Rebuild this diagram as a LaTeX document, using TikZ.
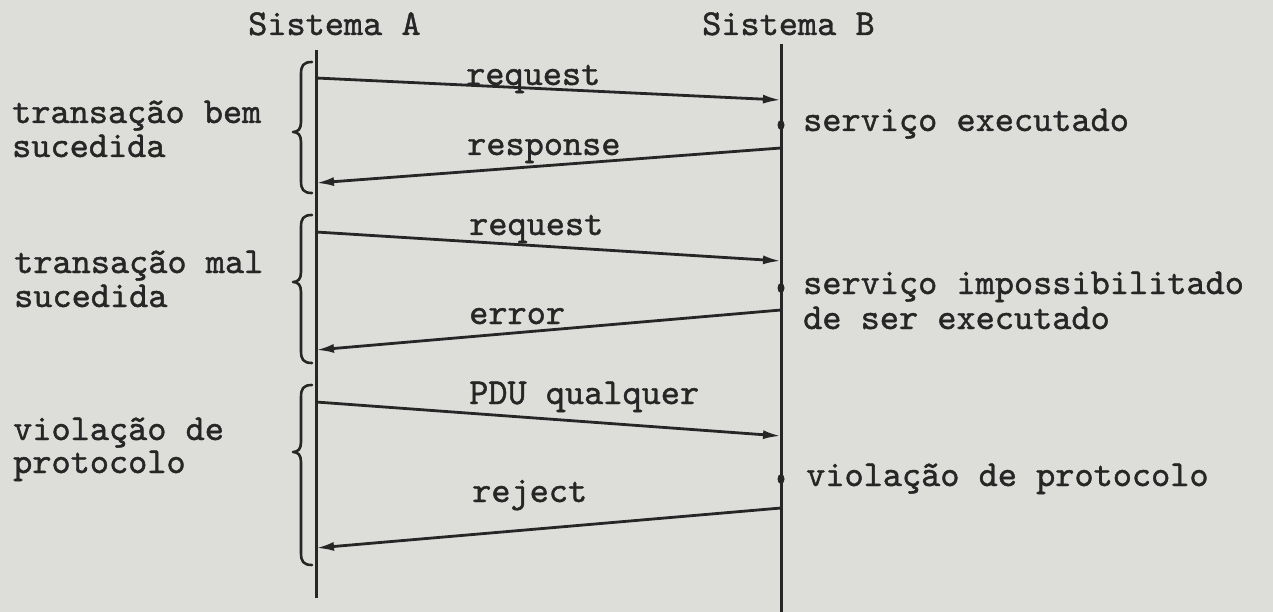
\documentclass[tikz,border=0pt]{standalone}
\usepackage{fontspec}
\setmonofont[FakeBold=1.2]{lmmono10-regular.otf}
\usetikzlibrary{arrows.meta,shapes.geometric}
\definecolor{paper}{RGB}{221,221,218}
\definecolor{ink}{RGB}{38,38,38}
\newcommand\sidebrace[4]{%
  \draw[bracestyle] (312,#2) .. controls (303,#2) and (301,#2+4) .. (301,#2+12)
    -- (301,#3-10) .. controls (301,#3-3) and (298,#3) .. (293,#3)
    .. controls (298,#3) and (301,#3+3) .. (301,#3+10)
    -- (301,#4-12) .. controls (301,#4-4) and (303,#4) .. (312,#4);
  \coordinate (#1) at (293,#3);}
\begin{document}
\begin{tikzpicture}[x=1pt,y=-1pt,
  txt/.style={font=\fontsize{36.5}{40}\selectfont\ttfamily, text=ink, inner sep=0pt,
    text height=16pt, text depth=3pt, anchor=base west},
  life/.style={draw=ink, line width=3pt},
  msg/.style={draw=ink, line width=2.8pt, -{Latex[length=18pt,width=9pt]}},
  bracestyle/.style={draw=ink, line width=2.6pt, line join=round, line cap=round},
  evt/.style={ellipse, fill=ink, inner sep=0pt, minimum width=7pt, minimum height=10pt}]
\fill[paper] (0,0) rectangle (1273,612);
\useasboundingbox (0,0) rectangle (1273,612);

% titles
\node[txt] (tA) at (248,35) {Sistema A};
\node[txt] (tB) at (702,35) {Sistema B};

% lifelines
\coordinate (Atop) at (316,50);
\coordinate (Abot) at (316,598);
\coordinate (Btop) at (781,44);
\coordinate (Bbot) at (781,612);
\draw[life] (Atop) -- (Abot);
\draw[life] (Btop) -- (Bbot);

% message end points
\coordinate (a1) at (316,78);  \coordinate (b1) at (781,100);
\coordinate (b2) at (781,148); \coordinate (a2) at (316,183);
\coordinate (a3) at (316,232); \coordinate (b3) at (781,261);
\coordinate (b4) at (781,310); \coordinate (a4) at (316,350);
\coordinate (a5) at (316,402); \coordinate (b5) at (781,436);
\coordinate (b6) at (781,508); \coordinate (a6) at (316,548);

\draw[msg] (a1) -- (b1);
\draw[msg] (b2) -- (a2);
\draw[msg] (a3) -- (b3);
\draw[msg] (b4) -- (a4);
\draw[msg] (a5) -- (b5);
\draw[msg] (b6) -- (a6);

% message labels
\node[txt] (l1) at (466,85)  {request};
\node[txt] (l2) at (467,155) {response};
\node[txt] (l3) at (469,235) {request};
\node[txt] (l4) at (469,324) {error};
\node[txt] (l5) at (469,404) {PDU qualquer};
\node[txt] (l6) at (472,502) {reject};

% events on B
\node[evt] (e1) at (781,125) {};
\node[evt] (e2) at (781,288) {};
\node[evt] (e3) at (781,479) {};
\node[txt] (r1) at (803,131) {serviço executado};
\node[txt] (r2) at (803,294) {serviço impossibilitado};
\node[txt] (r2b) at (803,329) {de ser executado};
\node[txt] (r3) at (806,486) {violação de protocolo};

% braces
\sidebrace{br1}{62}{132}{193}
\sidebrace{br2}{215}{282}{363}
\sidebrace{br3}{385}{452}{565}

% left labels
\node[txt] (g1) at (12,123) {transação bem};
\node[txt] (g1b) at (12,157) {sucedida};
\node[txt] (g2) at (14,273) {transação mal};
\node[txt] (g2b) at (14,307) {sucedida};
\node[txt] (g3) at (13,440) {violação de};
\node[txt] (g3b) at (13,473) {protocolo};
\end{tikzpicture}
\end{document}
